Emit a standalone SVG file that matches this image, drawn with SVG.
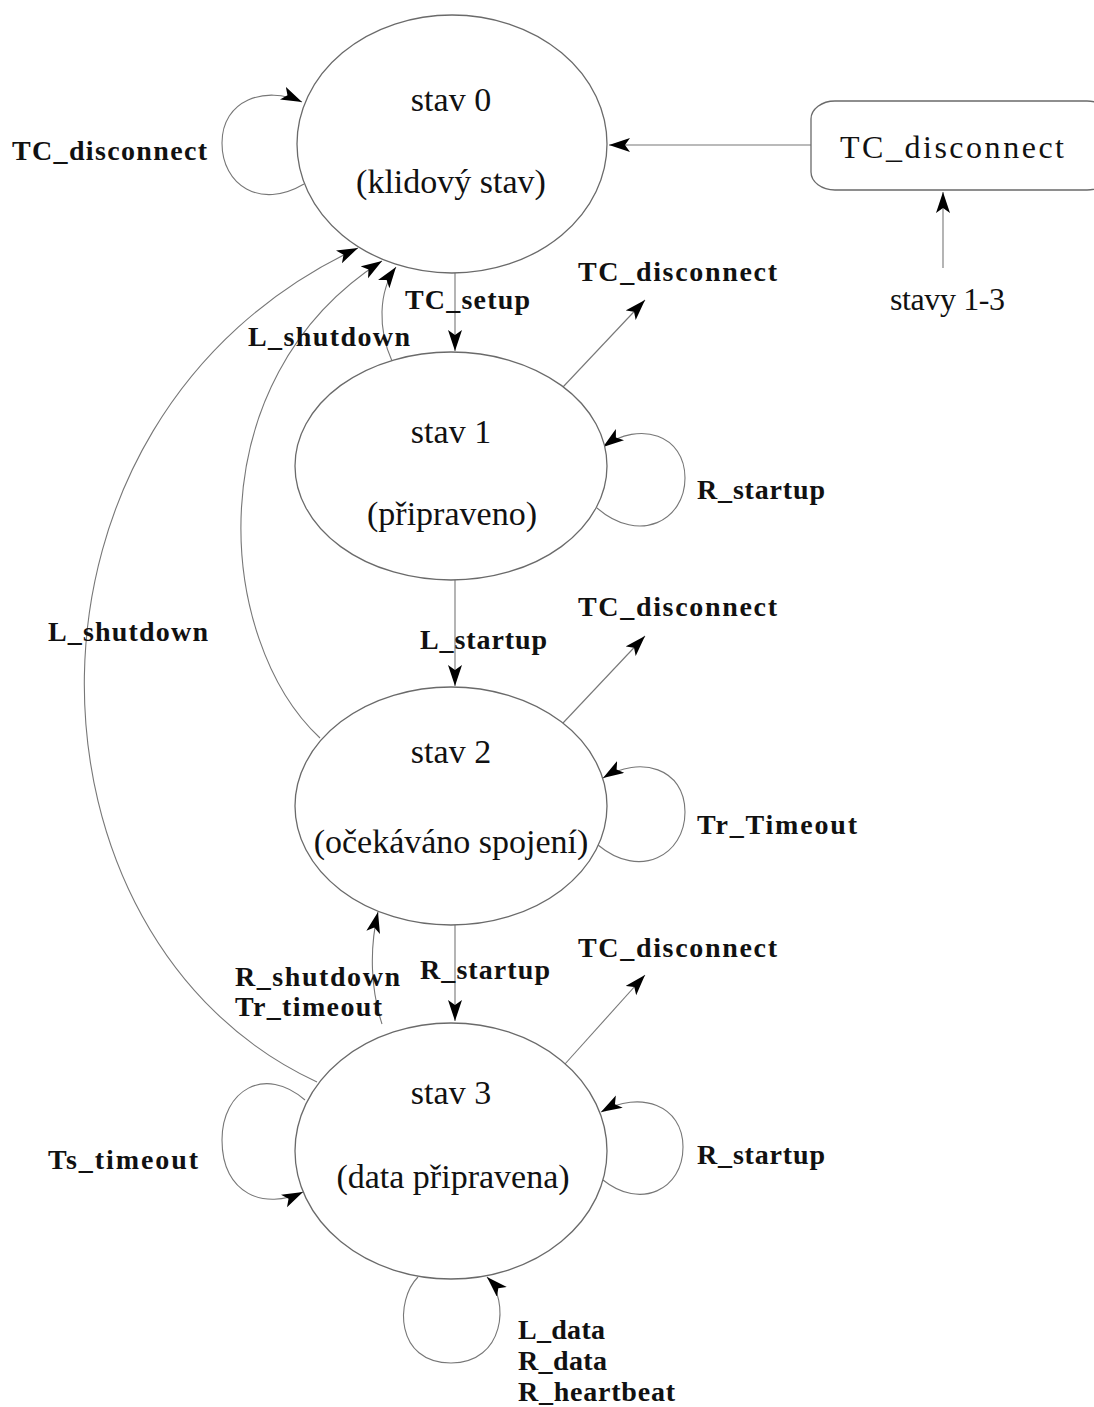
<svg xmlns="http://www.w3.org/2000/svg" width="1094" height="1407" viewBox="0 0 1094 1407">
<defs>
<marker id="ah" markerUnits="userSpaceOnUse" markerWidth="24" markerHeight="16" refX="21" refY="7" orient="auto">
<path d="M0,0 L21,7 L0,14 L5,7 z" fill="#000"/>
</marker>
<style>
.st{fill:#fff;stroke:#6a6a6a;stroke-width:1.3}
.ln{fill:none;stroke:#777;stroke-width:1.1;marker-end:url(#ah)}
.nm{font-family:"Liberation Serif",serif;font-size:34px;fill:#111;text-anchor:middle}
.lb{font-family:"Liberation Serif",serif;font-weight:bold;font-size:28px;fill:#111}
.rg{font-family:"Liberation Serif",serif;font-size:32px;fill:#111}
</style>
</defs>
<rect width="1094" height="1407" fill="#fff"/>
<g id="connectors">
<path class="ln" d="M811,145 L609,145"/>
<path class="ln" d="M943,268 L943,192"/>
<path class="ln" d="M455,273 L455,351"/>
<path class="ln" d="M455,580 L455,686"/>
<path class="ln" d="M455,925 L455,1021"/>
<path class="ln" d="M563,387 L645,300"/>
<path class="ln" d="M563,723 L645,636"/>
<path class="ln" d="M565,1064 L645,975"/>
<path class="ln" d="M392,361 C378,330 378,292 396,267"/>
<path class="ln" d="M320,738 C215,640 195,380 382,261"/>
<path class="ln" d="M317,1082 C10,940 -10,420 358,248"/>
<path class="ln" d="M382,1024 C371,990 369,950 378,912"/>
<path class="ln" d="M304,184 C260,210 222,185 222,143 C222,100 265,85 302,102"/>
<path class="ln" d="M597,508 C640,545 685,520 685,478 C685,435 640,420 603,447"/>
<path class="ln" d="M598,845 C640,880 685,855 685,812 C685,768 640,755 603,778"/>
<path class="ln" d="M603,1180 C640,1210 683,1190 683,1147 C683,1105 640,1090 601,1112"/>
<path class="ln" d="M305,1100 C265,1065 222,1090 222,1140 C222,1195 265,1210 303,1192"/>
<path class="ln" d="M418,1277 C395,1300 395,1363 451,1363 C505,1363 510,1300 487,1277"/>
</g>
<g id="stav0">
<ellipse class="st" cx="452" cy="144" rx="155" ry="129"/>
<text class="nm" x="451" y="111">stav 0</text>
<text class="nm" x="451" y="193">(klidový stav)</text>
</g>
<g id="stav1">
<ellipse class="st" cx="451" cy="466" rx="156" ry="114"/>
<text class="nm" x="451" y="443">stav 1</text>
<text class="nm" x="452" y="525">(připraveno)</text>
</g>
<g id="stav2">
<ellipse class="st" cx="451" cy="806" rx="156" ry="119"/>
<text class="nm" x="451" y="763">stav 2</text>
<text class="nm" x="451" y="853">(očekáváno spojení)</text>
</g>
<g id="stav3">
<ellipse class="st" cx="451" cy="1151" rx="156" ry="128"/>
<text class="nm" x="451" y="1104">stav 3</text>
<text class="nm" x="453" y="1188">(data připravena)</text>
</g>
<g id="box">
<rect x="811" y="101" width="300" height="89" rx="24" ry="18" fill="#fff" stroke="#6a6a6a" stroke-width="1.3"/>
<text class="rg" x="840" y="158" textLength="224" lengthAdjust="spacing">TC_disconnect</text>
</g>
<g id="labels">
<text class="rg" x="890" y="310" textLength="115" lengthAdjust="spacing">stavy 1-3</text>
<text class="lb" x="12" y="160" textLength="195" lengthAdjust="spacing">TC_disconnect</text>
<text class="lb" x="578" y="281" textLength="199" lengthAdjust="spacing">TC_disconnect</text>
<text class="lb" x="405" y="309" textLength="125" lengthAdjust="spacing">TC_setup</text>
<text class="lb" x="248" y="346" textLength="162" lengthAdjust="spacing">L_shutdown</text>
<text class="lb" x="697" y="499" textLength="128" lengthAdjust="spacing">R_startup</text>
<text class="lb" x="48" y="641" textLength="160" lengthAdjust="spacing">L_shutdown</text>
<text class="lb" x="578" y="616" textLength="199" lengthAdjust="spacing">TC_disconnect</text>
<text class="lb" x="420" y="649" textLength="127" lengthAdjust="spacing">L_startup</text>
<text class="lb" x="697" y="834" textLength="160" lengthAdjust="spacing">Tr_Timeout</text>
<text class="lb" x="578" y="957" textLength="199" lengthAdjust="spacing">TC_disconnect</text>
<text class="lb" x="420" y="979" textLength="130" lengthAdjust="spacing">R_startup</text>
<text class="lb" x="235" y="986" textLength="165" lengthAdjust="spacing">R_shutdown</text>
<text class="lb" x="235" y="1016" textLength="147" lengthAdjust="spacing">Tr_timeout</text>
<text class="lb" x="48" y="1169" textLength="150" lengthAdjust="spacing">Ts_timeout</text>
<text class="lb" x="697" y="1164" textLength="128" lengthAdjust="spacing">R_startup</text>
<text class="lb" x="518" y="1339" textLength="87" lengthAdjust="spacing">L_data</text>
<text class="lb" x="518" y="1370" textLength="89" lengthAdjust="spacing">R_data</text>
<text class="lb" x="518" y="1401" textLength="157" lengthAdjust="spacing">R_heartbeat</text>
</g>
</svg>
